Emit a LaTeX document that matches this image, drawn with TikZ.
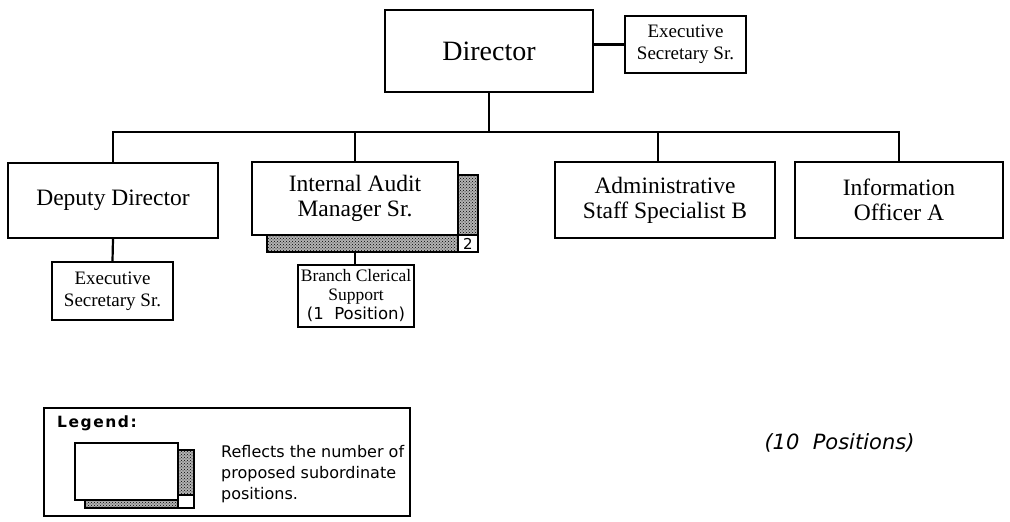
\documentclass[tikz,border=0pt]{standalone}
\usepackage{fontspec}
\setmainfont{Liberation Serif}
\newfontfamily\uisans{DejaVu Sans}
\usetikzlibrary{patterns}

\begin{document}
\begin{tikzpicture}[x=1pt,y=-1pt,
  box/.style={draw, line width=2.4pt, fill=white, align=center, inner sep=0pt,
    font=\fontsize{23.5}{25}\selectfont},
  smallbox/.style={box, font=\fontsize{19}{22}\selectfont},
  link/.style={line width=2.2pt},
  shadowbox/.style={draw, line width=2pt, inner sep=0pt,
    preaction={fill=gray!60}, pattern=crosshatch dots, pattern color=black},
  corner/.style={draw, line width=1.4pt, fill=white, inner sep=0pt,
    font=\uisans\fontsize{15}{15}\selectfont},
  note/.style={inner sep=0pt, align=left}]
\useasboundingbox (0,0) rectangle (1010,522);

% top level
\node[box, minimum width=208, minimum height=82, font=\fontsize{28}{30}\selectfont]
  (dir) at (489,51) {Director};
\node[smallbox, minimum width=121, minimum height=57] (es1) at (685.5,44.5)
  {Executive\\Secretary Sr.};

% second level
\node[box, minimum width=210, minimum height=75] (dep) at (113,200.5) {Deputy Director};
\node[shadowbox, minimum width=211, minimum height=77] (ash) at (372.5,213.5) {};
\node[box, minimum width=206, minimum height=73] (aud) at (355,198.5)
  {Internal Audit\\Manager Sr.};
\node[corner, minimum width=20, minimum height=17] (cnt) at (468,243.5) {2};
\node[box, minimum width=220, minimum height=76] (adm) at (665,200)
  {Administrative\\Staff Specialist B};
\node[box, minimum width=208, minimum height=76] (inf) at (899,200)
  {Information\\Officer A};

% third level
\node[smallbox, minimum width=121, minimum height=58] (es2) at (112.5,291)
  {Executive\\Secretary Sr.};
\node[box, minimum width=116, minimum height=62, font=\fontsize{17.5}{19}\selectfont]
  (bc) at (356,296)
  {Branch Clerical\\Support\\{\uisans\fontsize{16.5}{19}\selectfont(1~~Position)}};

% connectors
\coordinate (bus) at (0,132);
\draw[link] (dir.south) -- (dir.south |- bus);
\draw[link] (dep.north) -- (dep.north |- bus) -- (inf.north |- bus) -- (inf.north);
\draw[link] (aud.north) -- (aud.north |- bus);
\draw[link] ([xshift=-7pt]adm.north) -- ([xshift=-7pt]adm.north |- bus);
\draw[link] (es1.west) -- (es1.west -| dir.east);
\draw[link] (dep.south) -- (es2.north);
\draw[link] (aud.south |- ash.south) -- (aud.south |- bc.north);

% legend
\node[draw, line width=1.6pt, inner sep=0pt, minimum width=366, minimum height=108]
  (leg) at (227,462) {};
\node[note, anchor=west, font=\uisans\bfseries\fontsize{15.5}{15.5}\selectfont\addfontfeatures{LetterSpace=10}]
  (legt) at (57,423) {Legend:};
\node[shadowbox, line width=1.8pt, minimum width=109, minimum height=58] (lsh) at (139.5,479) {};
\node[draw, line width=2.2pt, fill=white, inner sep=0pt, minimum width=103, minimum height=57]
  (lbox) at (126.5,471.5) {};
\node[draw, line width=1.2pt, fill=white, inner sep=0pt, minimum width=16, minimum height=13]
  (lcnt) at (186,501.5) {};
\node[note, anchor=west, font=\uisans\fontsize{16}{21}\selectfont]
  (legx) at (221,474) {Reflects the number of\\proposed subordinate\\positions.};

\node[note, font=\uisans\itshape\fontsize{21}{21}\selectfont]
  (tot) at (839.5,442.5) {(10~~Positions)};
\end{tikzpicture}
\end{document}
